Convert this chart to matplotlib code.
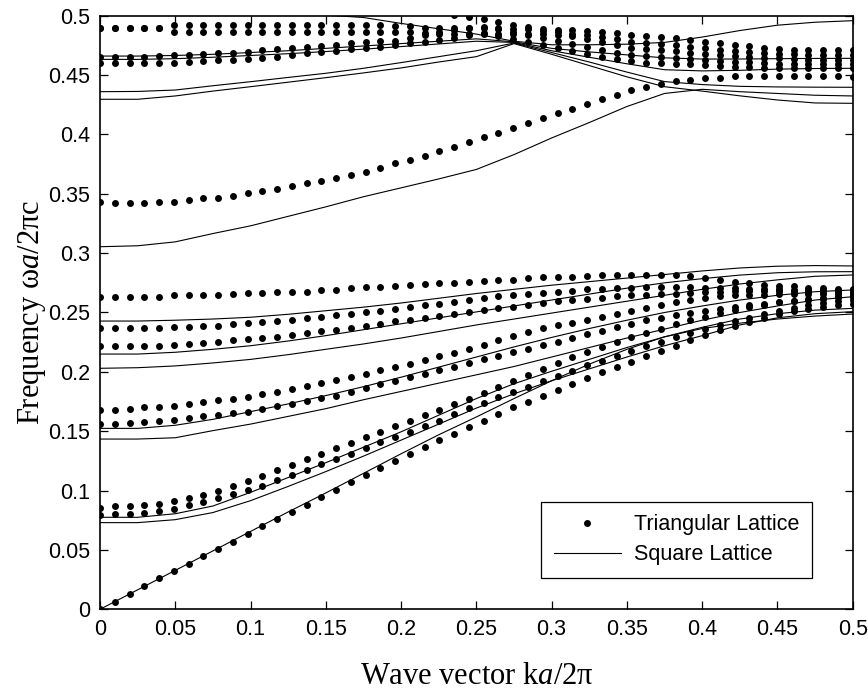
import numpy as np
import matplotlib
matplotlib.use("Agg")
import matplotlib.pyplot as plt

plt.rcParams['font.family'] = ['Liberation Sans', 'DejaVu Sans']
plt.rcParams['mathtext.fontset'] = 'custom'
plt.rcParams['mathtext.rm'] = 'Liberation Serif'
plt.rcParams['mathtext.it'] = 'Liberation Serif:italic'

nan = np.nan

# triangular lattice bands (dots), 52 k-points from 0 to 0.5
k_tri = np.linspace(0, 0.5, 52)
tri_bands = {
    't0': [0, .0065, .013, .0195, .026, .032, .038, .0445, .051, .057, .0635, .070, .076, .082, .088, .0945,
           .1005, .107, .113, .119, .125, .131, .137, .1425, .148, .1535, .159, .1645, .170, .175, .180, .185,
           .190, .1945, .1995, .204, .2085, .213, .2175, .222, .2265, .231, .235, .2385, .242, .2455, .2485,
           .251, .253, .255, .2565, .2575],
    't1': [.0794, .080, .0805, .081, .0825, .0845, .0875, .0905, .094, .097, .1005, .104, .1085, .113, .1175,
           .122, .1265, .131, .136, .1405, .145, .1495, .1545, .159, .1645, .1695, .174, .1785, .183, .1875,
           .192, .1965, .201, .2055, .2095, .2135, .2175, .2215, .2255, .229, .2325, .236, .2395, .2425, .2455,
           .2485, .2515, .254, .2565, .258, .2595, .2605],
    't2': [.0856, .087, .087, .0875, .089, .091, .0935, .0965, .100, .1035, .108, .1126, .1172, .1218, .1265,
           .1311, .1357, .1403, .145, .1496, .1542, .1588, .1635, .1681, .1727, .1773, .182, .1871, .1922,
           .1973, .2024, .2075, .2126, .217, .221, .225, .229, .2328, .2365, .24, .2435, .2465, .2495, .252,
           .2545, .2565, .2585, .26, .2615, .2622, .2628, .2632],
    't3': [.156, .156, .157, .1575, .1585, .1595, .161, .1625, .164, .165, .1665, .169, .171, .173, .1755, .178,
           .180, .183, .1865, .1895, .1925, .1955, .1985, .2015, .2045, .2075, .2105, .2135, .2165, .2195,
           .2225, .2255, .2285, .2315, .2345, .2375, .2405, .2435, .2455, .2475, .2495, .2515, .253, .2545,
           .256, .2575, .2585, .2595, .2605, .2615, .263, .2645],
    't4': [.168, .168, .169, .170, .1705, .1715, .173, .1745, .176, .1775, .179, .181, .183, .1855, .188, .1905,
           .193, .1955, .1985, .2015, .2045, .207, .210, .213, .216, .2195, .223, .2265, .230, .2335, .237,
           .2395, .2415, .244, .2465, .249, .2515, .254, .2565, .2585, .2605, .2625, .2635, .2645, .2645, .265,
           .2655, .266, .266, .266, .266, .266],
    't5': [.222, .222, .222, .222, .222, .2225, .2235, .2245, .2255, .2265, .2275, .2285, .2295, .231, .2325,
           .234, .2355, .237, .2385, .2405, .2425, .244, .2455, .247, .249, .2505, .252, .2535, .255, .2565,
           .258, .2595, .2605, .2615, .2625, .2635, .2645, .265, .2655, .266, .2665, .267, .2675, .268, .268,
           .268, .268, .268, .2675, .2675, .2675, .2675],
    't6': [.2367, .2367, .2367, .2367, .2367, .2375, .238, .2385, .239, .240, .241, .242, .243, .244, .245,
           .246, .2475, .249, .250, .2515, .253, .2545, .256, .2575, .259, .2605, .262, .2635, .2645, .2655,
           .2665, .2675, .2685, .2695, .270, .2705, .271, .2715, .2715, .2715, .2715, .271, .271, .2705, .270,
           .2695, .2695, .269, .269, .269, .269, .269],
    't7': [.2628, .2628, .2628, .2628, .2628, .2648, .2648, .2648, .2648, .266, .2662, .2662, .2676, .2676,
           .2676, .269, .269, .2704, .2712, .2718, .2723, .2732, .274, .2746, .2752, .276, .2765, .2774, .2774,
           .2788, .2796, .2796, .2802, .2807, .2816, .2816, .2816, .2816, .2816, .2816, .2805, .279, .2775,
           .276, .2745, .2735, .2725, .272, .271, .2705, .270, .270],
    't8': [.3433, .342, .342, .342, .3433, .3433, .345, .3464, .3464, .348, .351, .3526, .3537, .3568, .3588,
           .361, .363, .3658, .3686, .3714, .3757, .3785, .3818, .386, .3897, .3934, .398, .401, .405, .4094,
           .4136, .4178, .4211, .4254, .4296, .4332, .4374, .4397, .4425, .4453, .4458, .4472, .4472, .449,
           .449, .449, .449, .449, .449, .449, .449, .4486],
    't9': [.460, .460, .460, .460, .4602, .4604, .4608, .4615, .4627, .463, .4632, .4645, .4655, .467, .4683,
           .4695, .4706, .4716, .4726, .474, .4753, .4767, .4781, .4795, .4809, .4838, .4852, .483, .4805,
           .478, .4755, .4725, .4705, .468, .4655, .4635, .4615, .4605, .460, .4595, .459, .4585, .458, .4572,
           .4566, .456, .4556, .4556, .4556, .4556, .4556, .4556],
    't10': [.4655, .4655, .4655, .4655, .466, .4665, .4669, .4676, .4683, .469, .4697, .4707, .4717, .4728,
            .474, .4746, .4753, .4767, .4781, .4786, .479, .4815, .4838, .4866, .4879, .4894, .4908, .4885,
            .486, .4835, .481, .479, .4765, .474, .4715, .469, .467, .466, .465, .4642, .4635, .463, .4622,
            .4614, .4607, .460, .4595, .4592, .459, .459, .459, .459],
    't11': [.4894, .4894, .4894, .4894, .4894, .4866, .4866, .4866, .4866, .4866, .4866, .4866, .4866, .4866,
            .4866, .4866, .4866, .4866, .4866, .4866, .4866, .4866, .4855, .485, .4848, .4848, .4848, .4848,
            .4848, .4845, .4842, .484, .4825, .4805, .478, .4755, .473, .472, .471, .470, .469, .468, .467,
            .466, .465, .4645, .464, .4635, .463, .4627, .4625, .4625],
    't12': [.4894, .4894, .4894, .4894, .4894, .4922, .4922, .4922, .4922, .4922, .4922, .4922, .4922, .4922,
            .4922, .4922, .4922, .4922, .4922, .4922, .4915, .491, .490, .4895, .4895, .490, .4895, .4893,
            .489, .4885, .4875, .4865, .485, .4835, .482, .4805, .478, .477, .476, .475, .4738, .4725, .4715,
            .4705, .4695, .4685, .468, .4675, .467, .4668, .4665, .4665],
    't13': [nan] * 24 + [.5006, .4992, .4975, .4945, .492, .4905, .489, .4879, .488, .4875, .4865, .4855,
                         .4838, .483, .482, .481, .4795, .478, .4767, .4755, .4743, .473, .4716, .4712, .471,
                         .471, .471, .471],
}

# square lattice bands (lines), 21 k-points
k_sq = [0, .025, .05, .075, .1, .125, .15, .175, .2, .225, .25, .275, .3, .325, .35, .375, .4, .425, .45, .475, .5]
sq_bands = {
    'l0': [0, .0164, .0328, .0492, .0656, .082, .098, .1145, .131, .147, .162, .1775, .1925, .2065, .219, .2295,
           .2365, .241, .2445, .247, .2487],
    'l1': [.073, .073, .0755, .0815, .0915, .1035, .116, .129, .1425, .156, .1695, .1815, .1925, .2025, .2125,
           .222, .2305, .2395, .2455, .249, .2507],
    'l2': [.0775, .0775, .0805, .087, .0985, .111, .1235, .1365, .1495, .1635, .1775, .19, .2005, .2105, .2205,
           .2295, .2375, .2445, .249, .252, .2535],
    'l3': [.1434, .1434, .1445, .1505, .156, .1625, .169, .1765, .1835, .1905, .1975, .2045, .2125, .2205, .2285,
           .236, .2435, .25, .2555, .2605, .2633],
    'l4': [.1524, .1524, .155, .160, .1665, .173, .180, .1875, .1955, .204, .2125, .221, .229, .2365, .2435, .25,
           .2555, .2605, .2645, .2675, .269],
    'l5': [.203, .2035, .205, .2075, .2105, .2145, .219, .2235, .2285, .234, .2395, .2445, .2495, .2545, .2595,
           .2645, .2695, .274, .2775, .2805, .2816],
    'l6': [.215, .215, .2165, .219, .222, .226, .2305, .2355, .2405, .2455, .2505, .2555, .2605, .2655, .2705,
           .275, .2785, .2815, .2835, .2843, .2844],
    'l7': [.2428, .2428, .2435, .2445, .246, .2485, .2515, .2545, .258, .262, .266, .2695, .273, .276, .279, .282,
           .285, .2875, .289, .2895, .2892],
    'l8': [.3054, .3062, .3095, .3165, .323, .331, .339, .3475, .355, .3625, .3705, .383, .397, .410, .4235,
           .4345, .438, .436, .4345, .433, .4324],
    'l9': [.4296, .4296, .4324, .4365, .4402, .444, .4478, .4518, .456, .461, .4655, .4765, .4675, .458, .4485,
           .4402, .4365, .4325, .429, .4265, .4262],
    'l10': [.436, .4362, .4374, .441, .4444, .448, .4515, .4557, .4605, .4655, .4705, .477, .469, .461, .4525,
            .4445, .442, .4405, .440, .4398, .4397],
    'l11': [.4632, .4632, .4638, .465, .4665, .468, .4698, .4718, .474, .4762, .4785, .4775, .4705, .465, .4595,
            .4545, .4535, .454, .455, .4555, .4557],
    'l12': [.466, .466, .4665, .4675, .469, .4705, .4725, .4745, .4765, .4785, .4805, .478, .4725, .4695, .467,
            .4645, .4635, .4635, .4638, .464, .4641],
    'l13': [nan, nan, nan, nan, nan, nan, .5005, .4985, .4935, .489, .4845, .4785, .4755, .4755, .476, .4775,
            .482, .4875, .492, .4945, .4958],
}

ticks = [0, 0.05, 0.1, 0.15, 0.2, 0.25, 0.3, 0.35, 0.4, 0.45, 0.5]
tick_labels = ['0', '0.05', '0.1', '0.15', '0.2', '0.25', '0.3', '0.35', '0.4', '0.45', '0.5']

fig = plt.figure(figsize=(8.68, 6.92), dpi=100)
ax = fig.add_axes([100 / 868, 1 - 609.3 / 692, 752.7 / 868, 593.6 / 692])

first = True
for name, vals in sq_bands.items():
    ax.plot(k_sq, vals, '-', color='k', lw=0.8, label='Square Lattice' if first else None)
    first = False

first = True
for name, vals in tri_bands.items():
    ax.plot(k_tri, vals, 'o', color='k', ms=5, mew=0, label='Triangular Lattice' if first else None)
    first = False

ax.set_xlim(0, 0.5)
ax.set_ylim(0, 0.5)
ax.set_xticks(ticks)
ax.set_xticklabels(tick_labels)
ax.set_yticks(ticks)
ax.set_yticklabels(tick_labels)
ax.tick_params(direction='in', top=True, right=True, length=6, width=0.9, labelsize=15.5, pad=7)
for sp in ax.spines.values():
    sp.set_linewidth(1.2)

ax.set_xlabel('Wave vector k$\\mathit{a}$/2π', family='Liberation Serif', fontsize=22, labelpad=16)
ax.set_ylabel('Frequency ω$\\mathit{a}$/2πc', family='Liberation Serif', fontsize=22, labelpad=0)

h, l = ax.get_legend_handles_labels()
leg = ax.legend(h[::-1], l[::-1], loc='lower right', bbox_to_anchor=(0.946, 0.0527), fontsize=15.5,
                frameon=True, fancybox=False, framealpha=1, edgecolor='k', numpoints=1,
                handlelength=3.1, handletextpad=0.6, borderpad=0.6, labelspacing=0.4, borderaxespad=0)
leg.get_frame().set_linewidth(0.9)

fig.savefig('out.png', dpi=100)
